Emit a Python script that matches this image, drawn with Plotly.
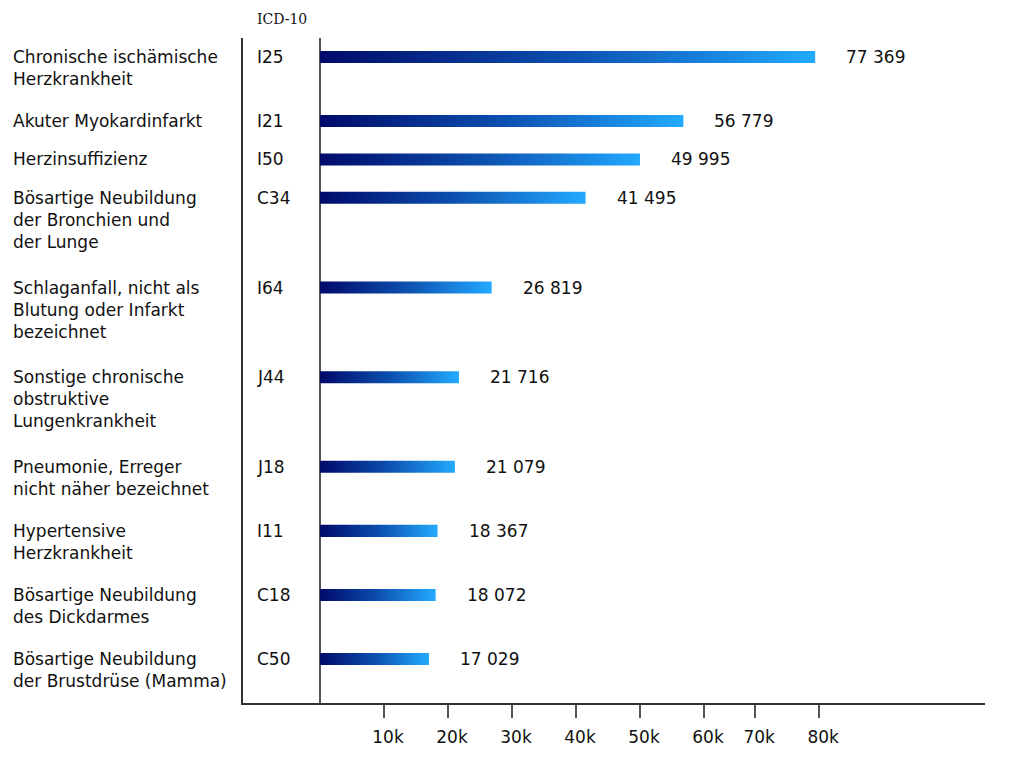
import plotly.graph_objects as go

# ---- data ----
labels = [
    "Chronische ischämische<br>Herzkrankheit",
    "Akuter Myokardinfarkt",
    "Herzinsuffizienz",
    "Bösartige Neubildung<br>der Bronchien und<br>der Lunge",
    "Schlaganfall, nicht als<br>Blutung oder Infarkt<br>bezeichnet",
    "Sonstige chronische<br>obstruktive<br>Lungenkrankheit",
    "Pneumonie, Erreger<br>nicht näher bezeichnet",
    "Hypertensive<br>Herzkrankheit",
    "Bösartige Neubildung<br>des Dickdarmes",
    "Bösartige Neubildung<br>der Brustdrüse (Mamma)",
]
codes = ["I25", "I21", "I50", "C34", "I64", "J44", "J18", "I11", "C18", "C50"]
values = [77369, 56779, 49995, 41495, 26819, 21716, 21079, 18367, 18072, 17029]
code_header = "ICD-10"
tick_values = [10000, 20000, 30000, 40000, 50000, 60000, 68000, 78000]
tick_labels = ["10k", "20k", "30k", "40k", "50k", "60k", "70k", "80k"]

# ---- row positions (in text-line units, from label line counts) ----
positions = []
p = 0.0
for lab in labels:
    positions.append(p)
    p += lab.count("<br>") + 1 + 0.5

FONT = "DejaVu Sans"
BAR_HALF = 0.235
scale = [[0, "#000a6a"], [0.5, "#0c4fae"], [1, "#22aaff"]]

fig = go.Figure()
for v, y in zip(values, positions):
    fig.add_trace(go.Scatter(
        x=[0, v, v, 0, 0],
        y=[y - BAR_HALF, y - BAR_HALF, y + BAR_HALF, y + BAR_HALF, y - BAR_HALF],
        mode="lines", line=dict(width=0), fill="toself",
        fillgradient=dict(type="horizontal", colorscale=scale),
        hoverinfo="skip", showlegend=False,
    ))

ann = []
for lab, code, v, y in zip(labels, codes, values, positions):
    ann.append(dict(xref="paper", yref="y", x=-0.313, y=y, text=lab,
                    xanchor="left", yanchor="top", align="left", yshift=12,
                    showarrow=False, font=dict(family=FONT, size=17, color="#111")))
    ann.append(dict(xref="paper", yref="y", x=0.016, y=y, text=code,
                    xanchor="left", yanchor="middle", align="left",
                    showarrow=False, font=dict(family=FONT, size=17, color="#111")))
    ann.append(dict(xref="x", yref="y", x=v, y=y, text=f"{v:,}".replace(",", " "),
                    xanchor="left", yanchor="middle", xshift=29,
                    showarrow=False, font=dict(family=FONT, size=17, color="#111")))
ann.append(dict(xref="paper", yref="paper", x=0.016, y=1.028, text=code_header,
                xanchor="left", yanchor="middle", showarrow=False,
                font=dict(family="DejaVu Serif", size=14, color="#111")))

fig.update_layout(
    width=1016, height=760,
    margin=dict(l=235, r=39, t=30, b=65),
    paper_bgcolor="white", plot_bgcolor="white",
    font=dict(family=FONT, size=17, color="#111"),
    annotations=ann,
    showlegend=False,
    xaxis=dict(range=[-12031, 103906], showgrid=False,
               zeroline=True, zerolinecolor="#555", zerolinewidth=2,
               showline=True, linecolor="#333", linewidth=2,
               ticks="outside", ticklen=13, tickwidth=2, tickcolor="#555",
               tickvals=tick_values, ticktext=tick_labels,
               ticklabelstandoff=5, ticklabelshift=4,
               tickfont=dict(family=FONT, size=17, color="#111")),
    yaxis=dict(range=[positions[-1] + 1.72, -0.74], showgrid=False,
               zeroline=False, showticklabels=False,
               showline=True, linecolor="#333", linewidth=2),
)

fig.write_html("out.html")
